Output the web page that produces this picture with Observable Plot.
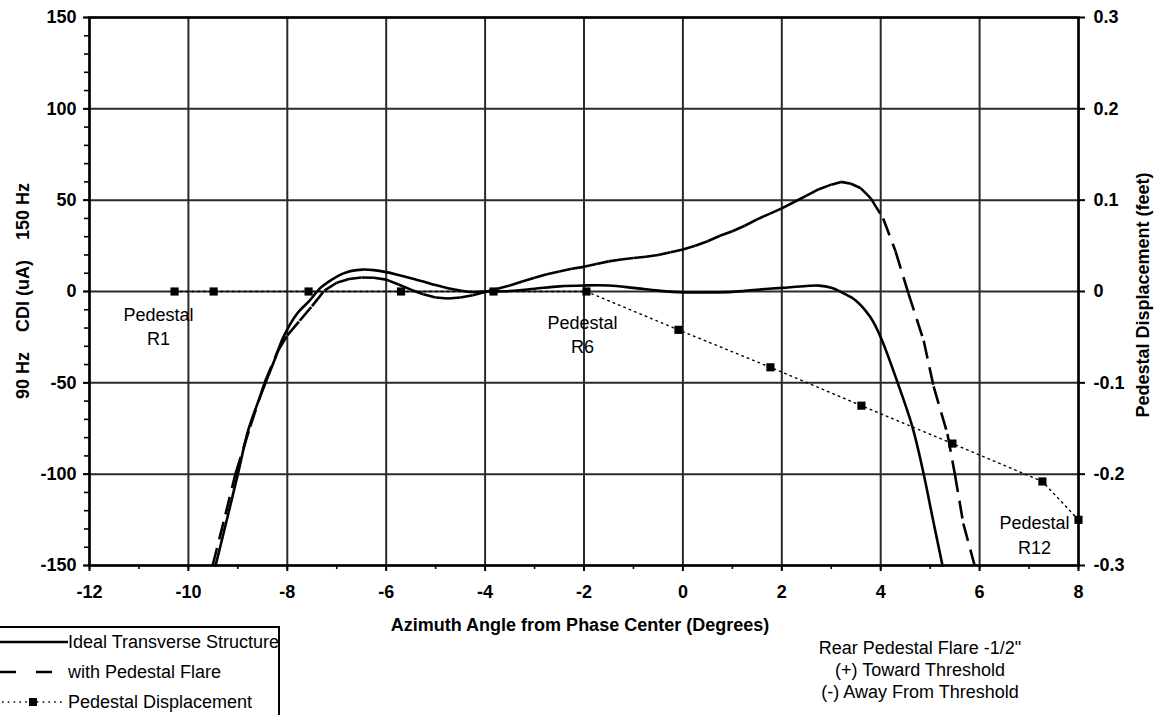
<!DOCTYPE html>
<html><head><meta charset="utf-8">
<script src="https://cdn.jsdelivr.net/npm/d3@7"></script>
<script src="https://cdn.jsdelivr.net/npm/@observablehq/plot@0.6"></script>
<style>
html,body{margin:0;padding:0;background:#fff;}
#wrap{position:relative;width:1156px;height:715px;overflow:hidden;font-family:"Liberation Sans",Arial,Helvetica,sans-serif;color:#000;}
#wrap > svg{display:block;}
.lbl{position:absolute;white-space:pre;line-height:1;}
.b{font-weight:bold;font-size:18px;}
.n{font-weight:normal;font-size:18px;}
</style></head><body>
<div id="wrap"></div>
<script>
// ---------------- data ----------------
// Ideal Transverse Structure: [azimuth deg, CDI uA]
const idealPts = [[-9.45,-150],[-9.25,-128],[-9.0,-100],[-8.78,-75],[-8.44,-50],[-8.25,-37],[-8.08,-25],[-7.8,-12],[-7.55,-5],[-7.33,2],[-7.1,6.5],[-6.9,9.5],[-6.7,11.3],[-6.48,12],[-6.25,11.7],[-6.0,10.6],[-5.75,9],[-5.5,7.3],[-5.25,5.5],[-5.0,3.5],[-4.75,1.8],[-4.5,0.5],[-4.25,-0.3],[-4.0,0],[-3.5,0.3],[-3.0,1.5],[-2.5,2.8],[-2.0,3.3],[-1.5,3.3],[-1.0,2.0],[-0.5,0.5],[0,-0.5],[0.5,-0.5],[1.0,-0.2],[1.5,1.0],[2.0,2.0],[2.5,3.0],[2.75,3.2],[3.0,2.0],[3.25,-1],[3.5,-5],[3.79,-14],[4.0,-25],[4.33,-49],[4.64,-74],[4.87,-100],[5.05,-124],[5.25,-150]];
// with Pedestal Flare: [azimuth deg, CDI uA]
const flarePts = [[-9.51,-150],[-9.25,-122],[-9.05,-100],[-8.75,-74],[-8.46,-50],[-8.2,-33],[-8.0,-24],[-7.75,-16],[-7.5,-8],[-7.25,0.5],[-7.0,4.8],[-6.75,6.8],[-6.5,7.7],[-6.25,7.5],[-6.0,6.5],[-5.75,3.8],[-5.5,1.0],[-5.25,-1.5],[-5.0,-3.3],[-4.75,-3.8],[-4.5,-3.3],[-4.25,-2.0],[-4.0,-0.3],[-3.75,1.5],[-3.5,3.3],[-3.25,5.5],[-3.0,7.5],[-2.75,9.5],[-2.5,11],[-2.25,12.5],[-2.0,13.5],[-1.75,15],[-1.5,16.5],[-1.25,17.5],[-1.0,18.3],[-0.75,19],[-0.5,20],[-0.25,21.5],[0,23],[0.25,25],[0.5,27.5],[0.75,30.5],[1.0,33],[1.25,36],[1.5,39.5],[1.75,42.5],[2.0,45.5],[2.25,49],[2.5,52.5],[2.75,56],[3.0,58.5],[3.2,60],[3.4,59],[3.6,56.5],[3.8,51],[4.05,40],[4.3,22],[4.56,-1],[4.87,-27],[5.07,-52],[5.35,-78],[5.5,-100],[5.67,-127],[5.9,-150]];
// Pedestal displacement (feet, right axis)
const pedX = [-10.28,-9.49,-7.57,-5.7,-3.83,-1.95,-0.09,1.77,3.61,5.45,7.27,8.0];
const pedFeet = [0,0,0,0,0,0,-0.042,-0.083,-0.125,-0.1665,-0.208,-0.25];
const pedNames = ["R1","R2","R3","R4","R5","R6","R7","R8","R9","R10","R11","R12"];
// ticks
const xTicks = [-12,-10,-8,-6,-4,-2,0,2,4,6,8];
const yTicks = [-150,-100,-50,0,50,100,150];
const rightTicksFeet = [-0.3,-0.2,-0.1,0,0.1,0.2,0.3];
// texts
const xTitle = "Azimuth Angle from Phase Center (Degrees)";
const yTitle = "90 Hz    CDI (uA)    150 Hz";
const y2Title = "Pedestal Displacement (feet)";
const legendItems = ["Ideal Transverse Structure","with Pedestal Flare","Pedestal Displacement"];
const notes = ["Rear Pedestal Flare -1/2\"","(+) Toward Threshold","(-) Away From Threshold"];

// ---------------- build ----------------
const FEET_TO_UA = 150 / 0.3;
const ideal = idealPts.map(([x, y]) => ({x, y}));
const flare = flarePts.map(([x, y]) => ({x, y}));
const flareSegs = flare.slice(1).map((d, i) => ({x1: flare[i].x, y1: flare[i].y, x2: d.x, y2: d.y}));
const ped = pedX.map((x, i) => ({x, y: pedFeet[i] * FEET_TO_UA, name: pedNames[i]}));
const pedLabel = (name) => ped.filter(d => d.name === name).map(d => ({...d, text: "Pedestal\n" + d.name}));

const chart = Plot.plot({
  width: 1156, height: 715,
  marginLeft: 89, marginRight: 78, marginTop: 17, marginBottom: 150,
  x: {domain: [-12, 8], axis: null},
  y: {domain: [-150, 150], axis: null},
  style: {fontFamily: "Liberation Sans, Arial, sans-serif", fontSize: "18px", fontWeight: "bold", color: "#000", background: "#fff", overflow: "visible"},
  marks: [
    Plot.gridX(xTicks, {stroke: "#2a2a2a", strokeOpacity: 1, strokeWidth: 2}),
    Plot.gridY(yTicks, {stroke: "#2a2a2a", strokeOpacity: 1, strokeWidth: 2}),
    Plot.line(ped, {x: "x", y: "y", stroke: "#000", strokeWidth: 1.4, strokeDasharray: "1.6,4.2"}),
    Plot.line(ideal, {x: "x", y: "y", curve: "catmull-rom", stroke: "#000", strokeWidth: 2.6}),
    Plot.link(flareSegs, {x1: "x1", y1: "y1", x2: "x2", y2: "y2", stroke: "#000", strokeWidth: 2.6, strokeDasharray: "18,9"}),
    Plot.dot(ped, {x: "x", y: "y", symbol: "square", r: 4.6, fill: "#000", stroke: null}),
    Plot.text(pedLabel("R1"), {x: "x", y: "y", text: "text", dx: -16, dy: 34, lineAnchor: "middle", lineHeight: 1.35, fontWeight: "normal", fill: "#000"}),
    Plot.text(pedLabel("R6"), {x: "x", y: "y", text: "text", dx: -4, dy: 42, lineAnchor: "middle", lineHeight: 1.3, fontWeight: "normal", fill: "#000"}),
    Plot.text(pedLabel("R12"), {x: "x", y: "y", text: "text", dx: -44, dy: 14, lineAnchor: "middle", lineHeight: 1.35, fontWeight: "normal", fill: "#000"}),
    Plot.frame({stroke: "#000", strokeWidth: 2.5}),
    Plot.axisX(xTicks, {tickSize: 6, tickPadding: 14, strokeWidth: 2, tickFormat: d => String(d), label: null}),
    Plot.axisX(d3.range(-12, 8.5, 1), {tickSize: 4, strokeWidth: 1.6, tickFormat: () => "", label: null}),
    Plot.axisY(yTicks, {anchor: "left", tickSize: 6, tickPadding: 7, strokeWidth: 2, tickFormat: d => String(d), label: null}),
    Plot.axisY(d3.range(-150, 151, 10), {anchor: "left", tickSize: 5, strokeWidth: 1.6, tickFormat: () => "", label: null}),
    Plot.axisY(rightTicksFeet.map(f => f * FEET_TO_UA), {anchor: "right", tickSize: 6, tickPadding: 9, strokeWidth: 2, tickFormat: d => String(+(d / FEET_TO_UA).toFixed(1)), label: null})
  ]
});

const wrap = document.getElementById("wrap");
wrap.appendChild(chart);

function addText(cls, text, style) {
  const el = document.createElement("div");
  el.className = "lbl " + cls;
  el.textContent = text;
  Object.assign(el.style, style);
  wrap.appendChild(el);
  return el;
}
// axis titles
addText("b", xTitle, {left: "580px", top: "625px", transform: "translate(-50%,-50%)"});
addText("b", yTitle, {left: "23px", top: "291px", transform: "translate(-50%,-50%) rotate(-90deg)"});
addText("b", y2Title, {left: "1143px", top: "295px", transform: "translate(-50%,-50%) rotate(-90deg)"});
// notes
notes.forEach((t, i) => addText("n", t, {left: "920px", top: (648 + i * 22) + "px", transform: "translate(-50%,-50%)"}));

// legend
const box = document.createElement("div");
Object.assign(box.style, {position: "absolute", left: "-4px", top: "626px", width: "284px", height: "120px", border: "2.5px solid #000", boxSizing: "border-box", background: "#fff"});
wrap.appendChild(box);
const rowsY = [642, 672, 702];
const sw = d3.select(wrap).append("svg").attr("width", 70).attr("height", 715)
  .style("position", "absolute").style("left", "0px").style("top", "0px");
sw.append("line").attr("x1", 0).attr("x2", 68).attr("y1", rowsY[0]).attr("y2", rowsY[0]).attr("stroke", "#000").attr("stroke-width", 2.5);
sw.append("line").attr("x1", 0).attr("x2", 56).attr("y1", rowsY[1]).attr("y2", rowsY[1]).attr("stroke", "#000").attr("stroke-width", 2.5).attr("stroke-dasharray", "16,20");
sw.append("line").attr("x1", 2).attr("x2", 62).attr("y1", rowsY[2]).attr("y2", rowsY[2]).attr("stroke", "#000").attr("stroke-width", 1.4).attr("stroke-dasharray", "1.6,4.2");
sw.append("rect").attr("x", 29).attr("y", rowsY[2] - 4).attr("width", 8).attr("height", 8).attr("fill", "#000");
legendItems.forEach((t, i) => addText("n", t, {left: "68px", top: rowsY[i] + "px", transform: "translate(0,-50%)"}));
</script></body></html>
